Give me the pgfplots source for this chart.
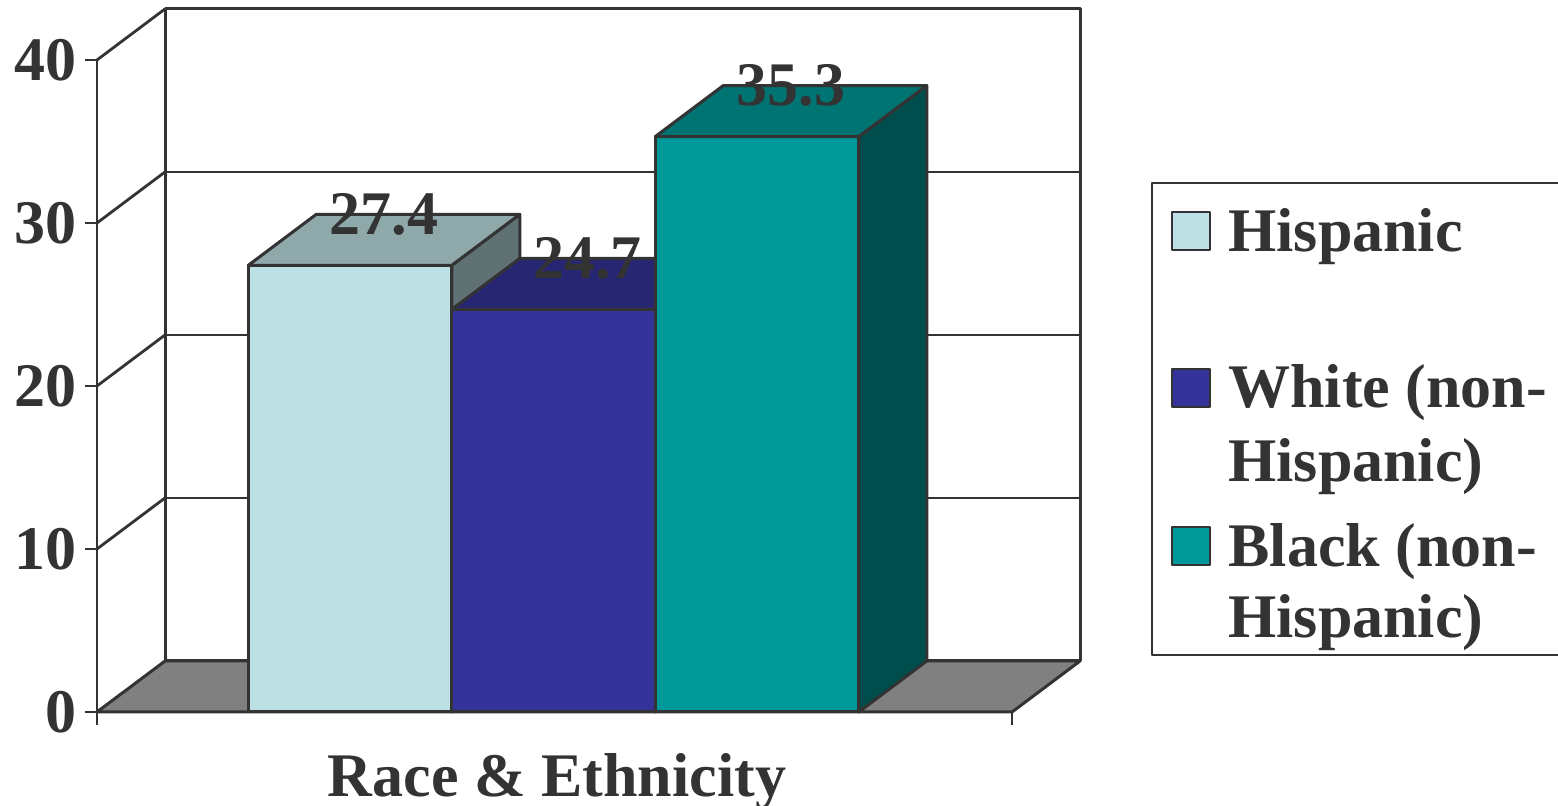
\documentclass[border=0pt]{standalone}
\usepackage{pgfplots}
\pgfplotsset{compat=1.18}
\usepackage{fontspec}
\setmainfont{Liberation Serif}

\definecolor{ink}{HTML}{333333}
\definecolor{floorgray}{HTML}{808080}
\definecolor{hisfront}{HTML}{BCE0E3}
\definecolor{histop}{HTML}{8FA8AA}
\definecolor{hisside}{HTML}{5F7173}
\definecolor{whifront}{HTML}{333399}
\definecolor{whitop}{HTML}{262673}
\definecolor{whiside}{HTML}{1A1A4D}
\definecolor{blafront}{HTML}{009999}
\definecolor{blatop}{HTML}{007373}
\definecolor{blaside}{HTML}{004D4D}

\tikzset{
  face/.style={draw=ink, line width=1.5pt, line join=round},
  gridline/.style={draw=ink, line width=1.4pt},
  lbl/.style={font=\fontsize{31}{36}\selectfont\bfseries, text=ink, inner sep=0pt},
}

% depth of the 3-D projection, in axis units
\newcommand\depthx{0.3342}
\newcommand\depthy{3.129}

% one 3-D bar: center, value, front colour, top colour, side colour
\newcommand{\barbox}[5]{%
  \pgfmathsetmacro\bxl{#1-0.5}%
  \pgfmathsetmacro\bxr{#1+0.5}%
  \pgfmathsetmacro\bxlb{#1-0.5+\depthx}%
  \pgfmathsetmacro\bxrb{#1+0.5+\depthx}%
  \pgfmathsetmacro\byt{#2+\depthy}%
  \edef\barcmds{%
    \noexpand\addplot[face,fill=#3] coordinates {(\bxl,0) (\bxr,0) (\bxr,#2) (\bxl,#2)} --cycle;
    \noexpand\addplot[face,fill=#5] coordinates {(\bxr,0) (\bxrb,\depthy) (\bxrb,\byt) (\bxr,#2)} --cycle;
    \noexpand\addplot[face,fill=#4] coordinates {(\bxl,#2) (\bxr,#2) (\bxrb,\byt) (\bxlb,\byt)} --cycle;
  }\barcmds
}
% value label sitting on the back edge of a bar's top face
\newcommand{\barlabel}[2]{%
  \pgfmathsetmacro\lbx{#1+0.5*\depthx}%
  \pgfmathsetmacro\lby{#2+\depthy}%
  \edef\lblcmd{\noexpand\node[lbl] at (axis cs:\lbx,\lby) {#2};}\lblcmd
}

\begin{document}
\begin{tikzpicture}
\begin{axis}[
  scale only axis, width=779pt, height=403pt,
  xmin=-0.71990, xmax=6.93612, ymin=-5.7669, ymax=43.681,
  axis lines=none, clip=false,
]
% back wall with gridlines
\addplot[face, fill=white] coordinates {(0.0910,3.129) (4.5873,3.129) (4.5873,43.129) (0.0910,43.129)} --cycle;
\pgfplotsinvokeforeach{10,20,30}{
  \addplot[gridline] coordinates {(0.0910,#1+3.129) (4.5873,#1+3.129)};
}
% left wall: lines from the front axis to the back wall
\pgfplotsinvokeforeach{10,20,30,40}{
  \addplot[gridline] coordinates {(-0.2432,#1) (0.0910,#1+3.129)};
}
% floor
\addplot[face, fill=floorgray] coordinates {(-0.2432,0) (4.2531,0) (4.5873,3.129) (0.0910,3.129)} --cycle;

% bars
\barbox{1}{27.4}{hisfront}{histop}{hisside}
\barbox{2}{24.7}{whifront}{whitop}{whiside}
\barbox{3}{35.3}{blafront}{blatop}{blaside}

\barlabel{1}{27.4}
\barlabel{2}{24.7}
\barlabel{3}{35.3}

% front axis, ticks and tick labels
\addplot[gridline] coordinates {(-0.2432,-0.7975) (-0.2432,40)};
\addplot[gridline] coordinates {(-0.2432,0) (4.2531,0)};
\addplot[gridline] coordinates {(4.2531,0) (4.2531,-0.7975)};
\pgfplotsinvokeforeach{0,10,20,30,40}{
  \addplot[gridline] coordinates {(-0.3022,#1) (-0.2432,#1)};
  \node[lbl, anchor=east] at (axis cs:-0.3415,#1) {#1};
}

% axis title
\node[lbl, anchor=base] at (axis cs:2.0172,-5.2147) {Race \& Ethnicity};

% legend
\addplot[face, fill=white, line width=1.2pt] coordinates {(4.9410,3.497) (6.9951,3.497) (6.9951,32.454) (4.9410,32.454)} --cycle;
\addplot[face, fill=hisfront, line width=1.1pt] coordinates {(5.0393,28.344) (5.2260,28.344) (5.2260,30.675) (5.0393,30.675)} --cycle;
\addplot[face, fill=whifront, line width=1.1pt] coordinates {(5.0393,18.712) (5.2260,18.712) (5.2260,21.043) (5.0393,21.043)} --cycle;
\addplot[face, fill=blafront, line width=1.1pt] coordinates {(5.0393,9.018) (5.2260,9.018) (5.2260,11.350) (5.0393,11.350)} --cycle;
\node[lbl, anchor=base west] at (axis cs:5.3145,28.221) {Hispanic};
\node[lbl, anchor=base west] at (axis cs:5.3145,18.650) {White (non-};
\node[lbl, anchor=base west] at (axis cs:5.3145,14.110) {Hispanic)};
\node[lbl, anchor=base west] at (axis cs:5.3145,8.896) {Black (non-};
\node[lbl, anchor=base west] at (axis cs:5.3145,4.540) {Hispanic)};
\end{axis}
\pgfresetboundingbox
\useasboundingbox (0,0) rectangle (779pt,403pt);
\end{tikzpicture}
\end{document}
